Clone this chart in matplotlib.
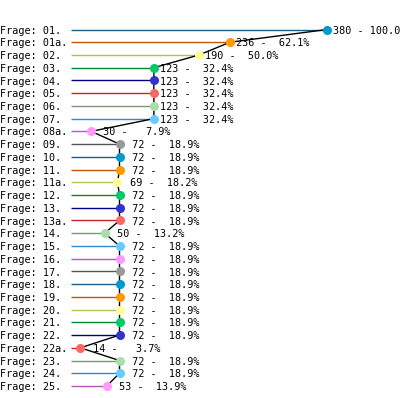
import matplotlib
matplotlib.use("Agg")
import matplotlib.pyplot as plt
from matplotlib.transforms import blended_transform_factory, offset_copy

# question labels and answer counts
fragen = ["01.", "01a.", "02.", "03.", "04.", "05.", "06.", "07.", "08a.", "09.",
          "10.", "11.", "11a.", "12.", "13.", "13a.", "14.", "15.", "16.", "17.",
          "18.", "19.", "20.", "21.", "22.", "22a.", "23.", "24.", "25."]
counts = [380, 236, 190, 123, 123, 123, 123, 123, 30, 72,
          72, 72, 69, 72, 72, 72, 50, 72, 72, 72,
          72, 72, 72, 72, 72, 14, 72, 72, 53]
total = 380

# colour cycle: (line colour, marker colour)
line_cols = ["#1a5e8a", "#c05800", "#bbbb55", "#008833", "#000088",
             "#cc2222", "#779977", "#3388cc", "#bb55bb", "#555555"]
dot_cols = ["#0099cc", "#ff9900", "#ffff99", "#00cc66", "#3333cc",
            "#ff6666", "#aaddaa", "#66ccff", "#ff99ff", "#999999"]

W, H = 400, 398
fig = plt.figure(figsize=(W / 100, H / 100), dpi=100)
fig.patch.set_facecolor("white")

# axes spanning from x=71px (0) to x=327px (max), first row at 29.5px, last at 386px
left, right = 71 / W, 327 / W
top, bottom = 1 - 29.5 / H, 1 - 386 / H
ax = fig.add_axes([left, bottom, right - left, top - bottom])
ax.set_xlim(0, total)
ax.set_ylim(len(fragen) - 1, 0)
ax.axis("off")

rows = list(range(len(fragen)))
font = dict(family="DejaVu Sans Mono", fontsize=7.3)

for i, (f, c) in enumerate(zip(fragen, counts)):
    ax.plot([0, c], [i, i], color=line_cols[i % 10], lw=1, solid_capstyle="butt",
            zorder=1, clip_on=False)

ax.plot(counts, rows, color="black", lw=1, zorder=2, clip_on=False)

for i, c in enumerate(counts):
    ax.plot(c, i, "o", ms=5.5, color=dot_cols[i % 10], mec=dot_cols[i % 10],
            zorder=3, clip_on=False)

lab_tr = offset_copy(blended_transform_factory(fig.transFigure, ax.transData),
                     fig=fig, x=0, y=-0.8, units="points")
val_tr = offset_copy(ax.transData, fig=fig, x=4.5, y=-0.8, units="points")
for i, (f, c) in enumerate(zip(fragen, counts)):
    ax.text(0.5 / W, i, "Frage: " + f, transform=lab_tr, ha="left", va="center",
            **font)
    pct = c / total * 100
    ax.text(c, i, "%3d - %5.1f%%" % (c, pct), transform=val_tr, ha="left",
            va="center", clip_on=False, **font)

fig.savefig("out.png", dpi=100, facecolor="white")
